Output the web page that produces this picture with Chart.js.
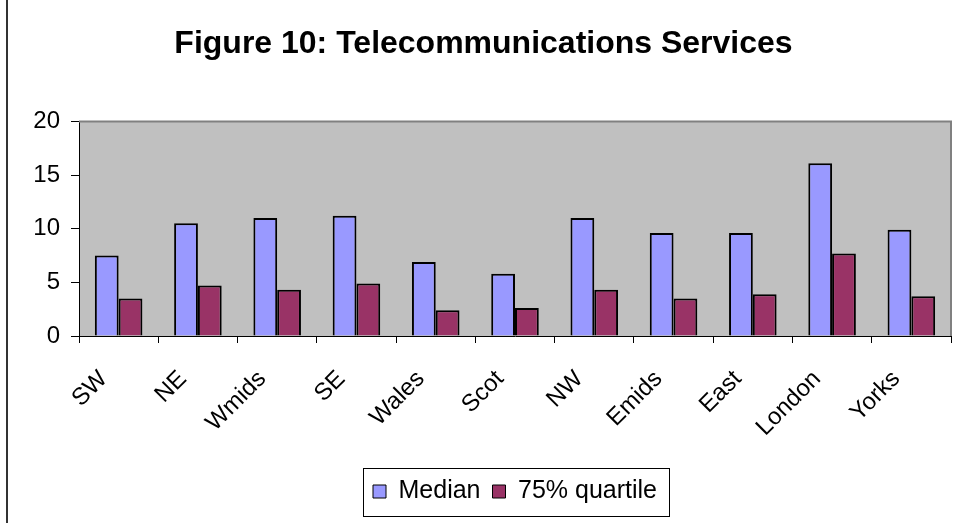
<!DOCTYPE html>
<html>
<head>
<meta charset="utf-8">
<script src="https://cdn.jsdelivr.net/npm/chart.js@4"></script>
<style>
  html, body { margin: 0; padding: 0; background: #fff; }
  #wrap { width: 959px; height: 523px; }
</style>
</head>
<body>
<div id="wrap"><canvas id="myChart" width="959" height="523"></canvas></div>
<script>
// regions along the x axis
var regions = ['SW', 'NE', 'Wmids', 'SE', 'Wales', 'Scot', 'NW', 'Emids', 'East', 'London', 'Yorks'];

// values
var median = [7.5, 10.5, 11.0, 11.2, 6.9, 5.8, 11.0, 9.6, 9.6, 16.1, 9.9];
var quartile75 = [3.5, 4.7, 4.3, 4.9, 2.4, 2.6, 4.3, 3.5, 3.9, 7.7, 3.7];

// y axis tick labels
var yTicks = [0, 5, 10, 15, 20];

Chart.defaults.font.family = "'Liberation Sans', Arial, sans-serif";
Chart.defaults.color = '#000';

// grey plot area, frame line and legend border
var chartDecor = {
    id: 'chartDecor',
    afterLayout: function(chart) {
        // centre the legend under the plot area, not the whole canvas
        if (chart.legend) {
            chart.legend.left = chart.chartArea.left;
            chart.legend.right = chart.chartArea.right;
        }
    },
    beforeDraw: function(chart) {
        var ctx = chart.ctx;
        var a = chart.chartArea;
        ctx.save();
        ctx.fillStyle = '#fff';
        ctx.fillRect(0, 0, chart.width, chart.height);
        ctx.fillStyle = '#C0C0C0';
        ctx.fillRect(a.left, a.top, a.right - a.left, a.bottom - a.top);
        ctx.restore();
    },
    afterDraw: function(chart) {
        var ctx = chart.ctx;
        var a = chart.chartArea;
        ctx.save();
        // top and right edges of the plot area
        ctx.strokeStyle = '#808080';
        ctx.lineWidth = 2;
        ctx.beginPath();
        ctx.moveTo(a.left, a.top);
        ctx.lineTo(a.right, a.top);
        ctx.lineTo(a.right, a.bottom);
        ctx.stroke();
        // outer frame, left side
        ctx.strokeStyle = '#333';
        ctx.lineWidth = 2;
        ctx.beginPath();
        ctx.moveTo(7, 0);
        ctx.lineTo(7, chart.height);
        ctx.stroke();
        // legend border
        var boxes = chart.legend.legendHitBoxes;
        if (boxes && boxes.length) {
            var first = boxes[0];
            var last = boxes[boxes.length - 1];
            var x1 = Math.round(first.left - 10) + 0.5;
            var x2 = Math.round(last.left + last.width + 12) + 0.5;
            var y1 = Math.round(first.top - 11) + 0.5;
            var y2 = Math.round(first.top + first.height + 12) + 0.5;
            ctx.strokeStyle = '#000';
            ctx.lineWidth = 1;
            ctx.strokeRect(x1, y1, x2 - x1, y2 - y1);
        }
        ctx.restore();
    }
};

var ctx = document.getElementById('myChart').getContext('2d');
var myChart = new Chart(ctx, {
    type: 'bar',
    data: {
        labels: regions,
        datasets: [{
            label: 'Median',
            data: median,
            backgroundColor: '#9999FF',
            borderColor: '#000',
            borderWidth: 2
        }, {
            label: '75% quartile',
            data: quartile75,
            backgroundColor: '#993366',
            borderColor: '#000',
            borderWidth: 2
        }]
    },
    options: {
        responsive: false,
        animation: false,
        events: [],
        layout: {
            padding: { left: 16, right: 8, top: 0, bottom: 9 }
        },
        datasets: {
            bar: { categoryPercentage: 0.6, barPercentage: 1.0 }
        },
        plugins: {
            title: {
                display: true,
                text: 'Figure 10: Telecommunications Services',
                font: { size: 32, weight: 'bold' },
                color: '#000',
                padding: { top: 25, bottom: 58 }
            },
            legend: {
                position: 'bottom',
                labels: {
                    font: { size: 25 },
                    boxWidth: 13,
                    boxHeight: 13,
                    padding: 12,
                    color: '#000',
                    generateLabels: function(chart) {
                        var items = Chart.defaults.plugins.legend.labels.generateLabels(chart);
                        items.forEach(function(it) { it.lineWidth = 1; });
                        return items;
                    }
                }
            },
            tooltip: { enabled: false }
        },
        scales: {
            x: {
                grid: {
                    display: true,
                    drawOnChartArea: false,
                    offset: true,
                    tickLength: 7,
                    color: '#000'
                },
                border: { color: '#000', width: 1 },
                ticks: {
                    font: { size: 24 },
                    minRotation: 45,
                    maxRotation: 45,
                    autoSkip: false,
                    padding: 22,
                    labelOffset: -15
                },
                afterFit: function(scale) { scale.height = 131; }
            },
            y: {
                min: 0,
                max: 20,
                afterBuildTicks: function(scale) {
                    scale.ticks = yTicks.map(function(v) { return { value: v }; });
                },
                grid: {
                    drawOnChartArea: false,
                    tickLength: 8,
                    color: '#000'
                },
                border: { color: '#000', width: 1 },
                ticks: {
                    font: { size: 24 },
                    padding: 11
                },
                afterFit: function(scale) { scale.width = 63; }
            }
        }
    },
    plugins: [chartDecor]
});
</script>
</body>
</html>
